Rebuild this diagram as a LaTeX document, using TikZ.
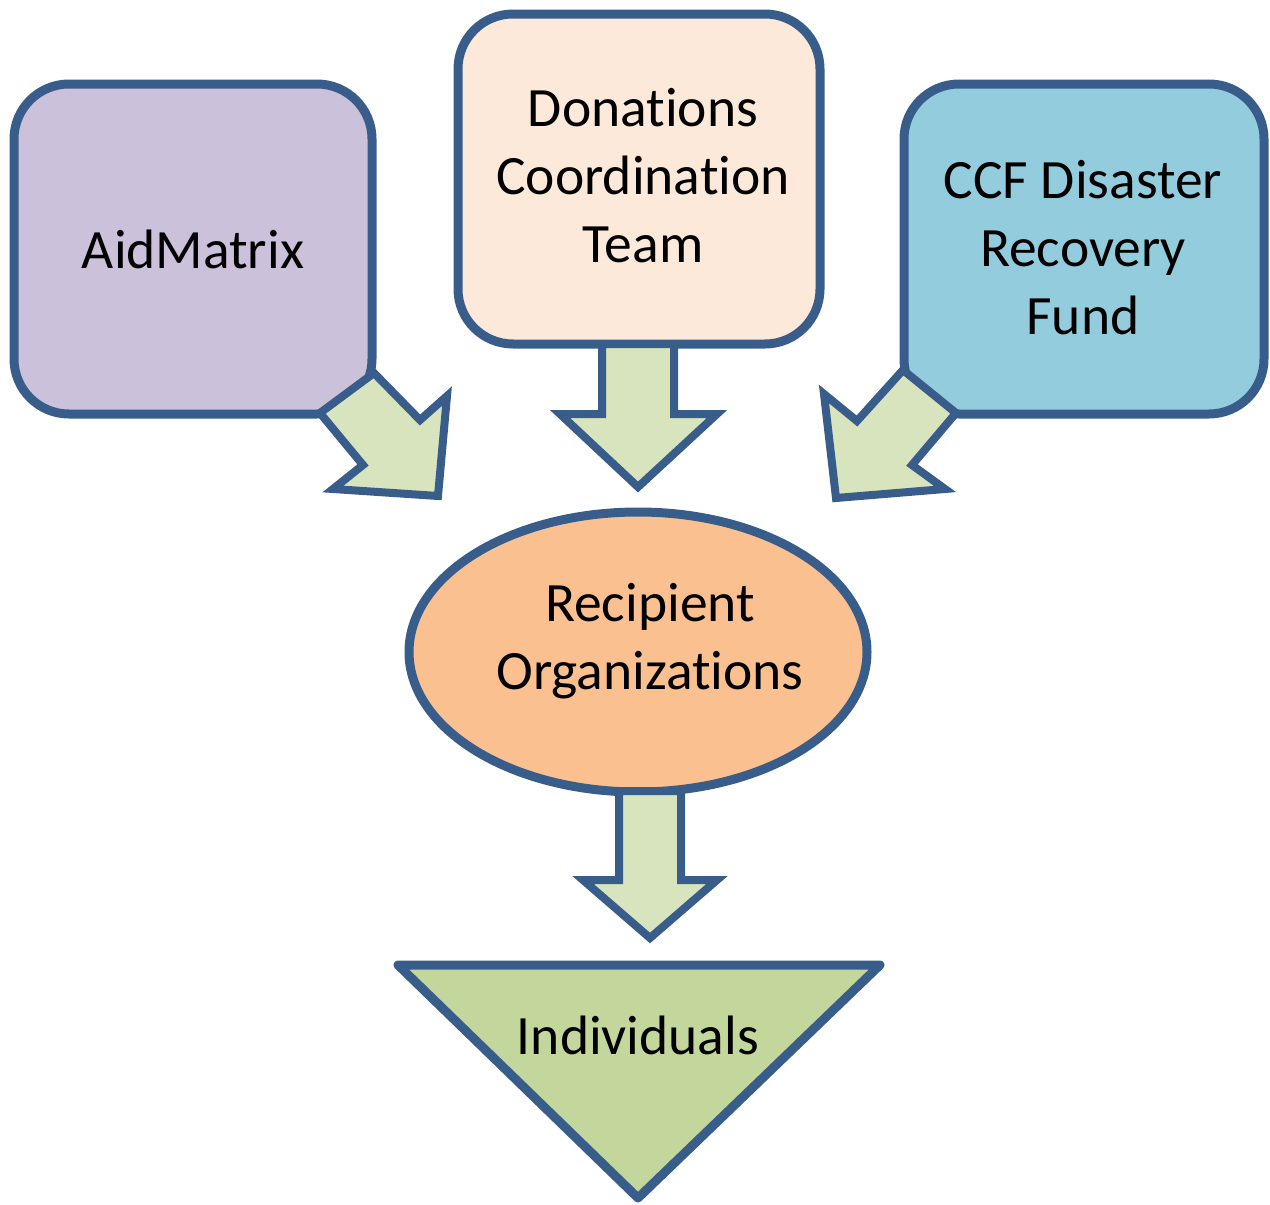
\documentclass[tikz,border=0pt]{standalone}
\usepackage{fontspec}
\setmainfont{Carlito}[RawFeature={-liga;-clig;-calt;-dlig}]
\usetikzlibrary{shapes.geometric}
\newcommand\nolg{\kern0pt\relax}
\definecolor{edge}{HTML}{385D8A}
\definecolor{lav}{HTML}{CCC1DA}
\definecolor{peach}{HTML}{FDE9D9}
\definecolor{sky}{HTML}{93CDDD}
\definecolor{orangef}{HTML}{FAC090}
\definecolor{arrowgreen}{HTML}{D7E4BD}
\definecolor{trigreen}{HTML}{C3D69B}
\begin{document}
\begin{tikzpicture}[x=1pt,y=-1pt,
  lbl/.style={font=\fontsize{55.5}{68}\selectfont, align=center, text=black},
  box/.style={draw=edge, line width=9pt, rounded corners=55pt, lbl},
  blockarrow/.style={draw=edge, fill=arrowgreen, line width=8pt, line join=miter}]
\useasboundingbox (0,0) rectangle (1270,1205);
\node[box, fill=lav, minimum width=358pt, minimum height=330pt] (aid) at (193,249) {AidMatrix};
\node[box, fill=peach, minimum width=362pt, minimum height=330pt] (don) at (639,179) {};
\node[lbl] (donlbl) at (643,176) {Donations\\Coordinat\nolg ion\\Team};
\node[box, fill=sky, minimum width=360pt, minimum height=330pt] (ccf) at (1084,249) {};
\node[lbl] (ccflbl) at (1083,248) {CCF Disaster\\Recovery\\Fund};
\node[ellipse, draw=edge, fill=orangef, line width=9pt, minimum width=458pt, minimum height=280pt] (rec) at (638,652) {};
\node[lbl] (reclbl) at (650,641) {Recipient\\Organizat\nolg ions};
\draw[draw=edge, fill=trigreen, line width=9pt, line join=round] (398,965) coordinate (tl) -- (880,965) coordinate (tr) -- (638,1198) coordinate (tb) -- cycle;
\node[lbl] (ind) at (638,1035) {Individuals};
% block arrows
\draw[blockarrow] (374,373) -- (420,420) -- (447,396) -- (438,496) -- (333,489) -- (363,465) -- (320,413) -- cycle;
\draw[blockarrow] (602,344) -- (602,414) -- (560,414) -- (638,487) -- (717,414) -- (674,414) -- (674,344) -- cycle;
\draw[blockarrow] (903,370) -- (857,421) -- (824,394) -- (836,498) -- (945,489) -- (912,465) -- (956,413) -- cycle;
\draw[blockarrow] (619,791) -- (619,880) -- (583,880) -- (650,938) -- (717,880) -- (681,880) -- (681,791) -- cycle;
\end{tikzpicture}
\end{document}
